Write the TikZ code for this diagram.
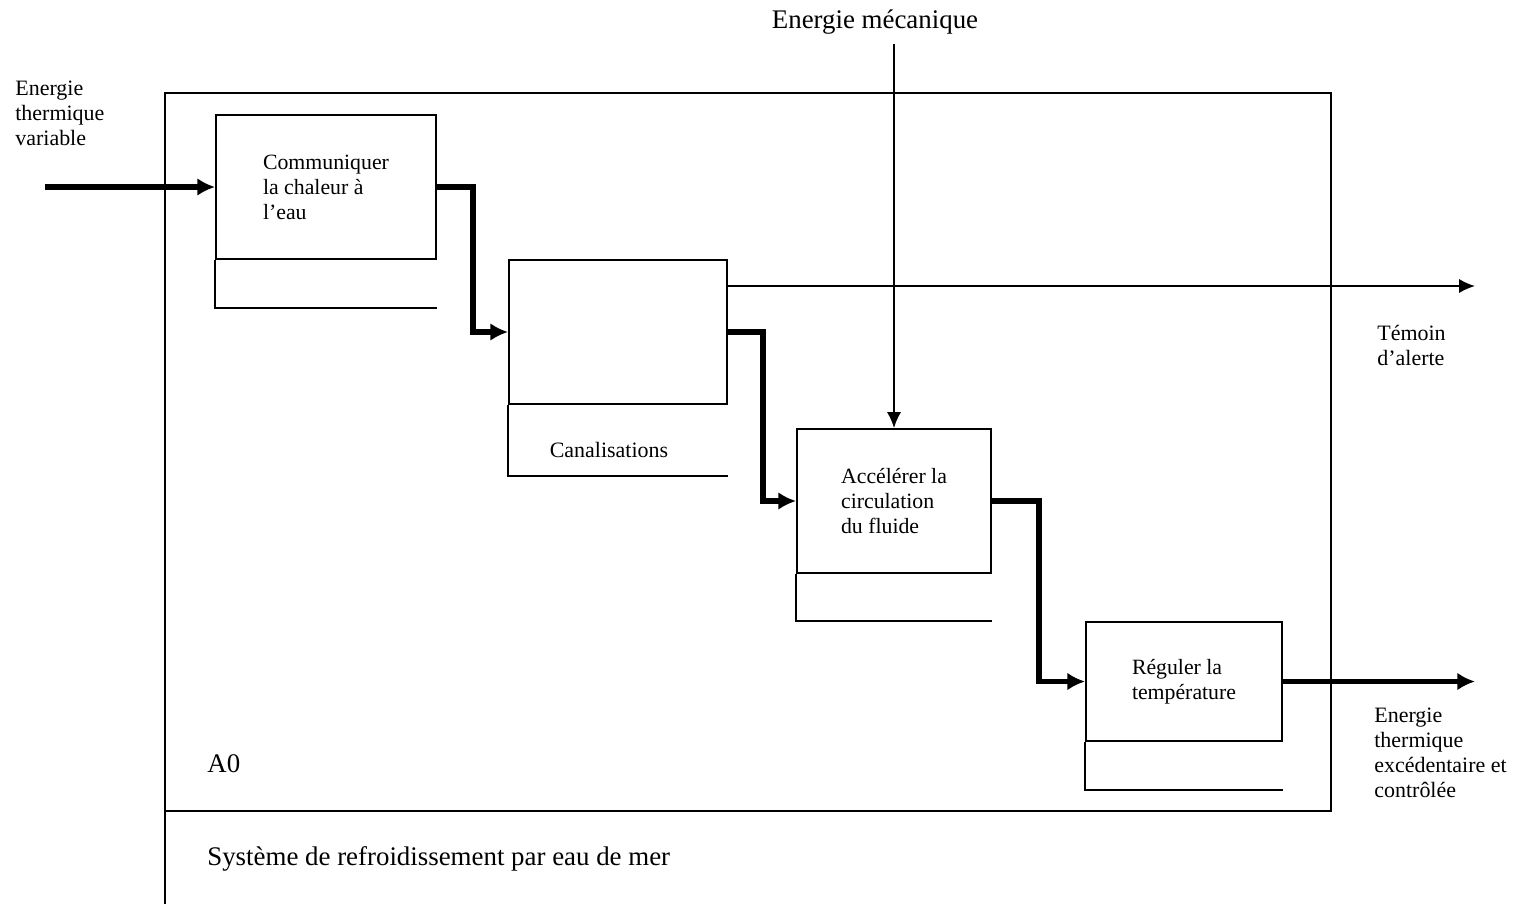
\documentclass[tikz,border=0pt]{standalone}
\usepackage{fontspec}
\setmainfont{Liberation Serif}
\usetikzlibrary{arrows.meta, calc}
\tikzset{>=latex}
\tikzset{
  fonction/.style = {draw, line width = 1.1pt, align = left, inner sep = 0pt,
    font = \fontsize{12.4}{14.2}\selectfont},
  flux/.style = {line width = 3pt, -{Latex[length = 10pt, width = 10pt]}},
  signal/.style = {line width = 1pt, -{Latex[length = 9pt, width = 8pt]}},
  etiquette/.style = {align = left, inner sep = 0pt, font = \fontsize{12.5}{14.2}\selectfont},
  grand/.style = {inner sep = 0pt, font = \fontsize{15.3}{17}\selectfont},
}

\begin{document}
\begin{tikzpicture}[x = 0.02cm, y = -0.02cm]
\useasboundingbox (0,0) rectangle (1518,904);
% cadre du diagramme A0
\draw[line width = 1.1pt] (165,93) rectangle (1331,811);
\draw[line width = 1.1pt] (165,811) -- (165,904);
\node[grand, anchor = west] (a0) at (207,764) {A0};
\node[grand, anchor = west] (titre) at (207,859) {Système de refroidissement par eau de mer};

% fonctions
\node[fonction, minimum width = 4.4cm, minimum height = 2.88cm] (comm) at (326,187) {Communiquer\\la chaleur à\\l’eau};
\node[fonction, minimum width = 4.36cm, minimum height = 2.88cm] (canal) at (618,332) {};
\node[fonction, minimum width = 3.88cm, minimum height = 2.88cm] (accel) at (894,501) {Accélérer la\\circulation\\du fluide};
\node[fonction, minimum width = 3.92cm, minimum height = 2.38cm] (regul) at (1184,681.5) {Réguler la\\température};
\foreach \b/\h in {comm/48, canal/71, accel/47, regul/48}
  \draw[line width = 1.1pt] (\b.south west) -- ++(0,\h) coordinate (m\b) -- (m\b -| \b.south east);
\node[etiquette] (canalisations) at (609,450) {Canalisations};

% entrees et sorties
\coordinate (entree) at (45,187);
\coordinate (sortie) at (1475,681.5);
\coordinate (alerte) at (1475,286);
\coordinate (meca) at (894,44);
\node[grand] (energiemeca) at (875,22) {Energie mécanique};
\node[etiquette, anchor = west] (ethvar) at (15,113) {Energie\\thermique\\variable};
\node[etiquette, anchor = west] (temoin) at (1377,345) {Témoin\\d’alerte};
\node[etiquette, anchor = west] (ethexc) at (1374,753) {Energie\\thermique\\excédentaire et\\contrôlée};

\draw[flux] (entree) -- (comm.west);
\draw[flux] (comm.east) -- ++(36,0) |- (canal.west);
\draw[flux] (canal.east) -- ++(35,0) |- (accel.west);
\draw[flux] (accel.east) -- ++(47,0) |- (regul.west);
\draw[flux] (regul.east) -- (sortie);
\draw[signal] (canal.east |- alerte) -- (alerte);
\draw[signal] (meca) -- (accel.north);
\end{tikzpicture}
\end{document}
